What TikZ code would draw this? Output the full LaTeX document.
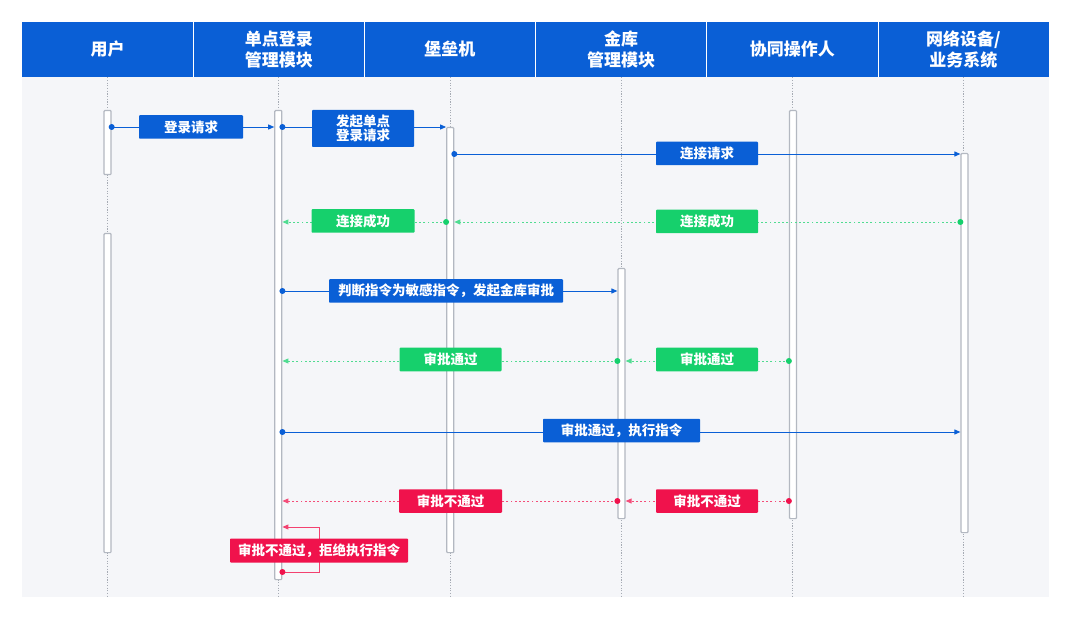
\documentclass[tikz,border=0pt]{standalone}
\usepackage{fontspec}
\newfontfamily\cjk{Noto Sans CJK SC}
\usetikzlibrary{arrows.meta}
\definecolor{hblue}{HTML}{0A5FD6}
\definecolor{mgreen}{HTML}{16D06C}
\definecolor{mred}{HTML}{F0124C}
\definecolor{panel}{HTML}{F5F6F9}
\definecolor{actgray}{HTML}{B3B8C1}
\definecolor{lgray}{HTML}{A6ABB4}
\tikzset{
  hdr/.style={rectangle, fill=hblue, minimum width=171.17pt, minimum height=55pt, inner sep=0pt,
    text=white, align=center, font=\cjk\bfseries\fontsize{17}{21}\selectfont},
  sepline/.style={white, line width=1pt},
  act/.style={rectangle, draw=actgray, fill=white, line width=1.2pt, minimum width=7pt,
    inner sep=0pt, rounded corners=0.8pt, anchor=north},
  life/.style={lgray, line width=0.7pt, dash pattern=on 1.2pt off 1.5pt},
  lbl/.style={rectangle, inner sep=0pt, minimum height=23.5pt, text=white, align=center,
    font=\cjk\bfseries\fontsize{13.5}{14.5}\selectfont, rounded corners=0.8pt},
  blbl/.style={lbl, fill=hblue},
  glbl/.style={lbl, fill=mgreen},
  rlbl/.style={lbl, fill=mred},
  tipp/.style={-{Triangle[length=6pt,width=5pt]}},
  bmsg/.style={hblue, line width=0.9pt, tipp},
  gmsg/.style={mgreen!75, line width=0.9pt, dash pattern=on 1.8pt off 2.4pt, tipp},
  rmsg/.style={mred!75, line width=0.9pt, dash pattern=on 1.8pt off 2.4pt, tipp},
  rloop/.style={mred!80, line width=0.9pt, tipp},
}
\begin{document}
\begin{tikzpicture}[x=1pt,y=-1pt]
\useasboundingbox (0,0) rectangle (1080,631);
\fill[white] (0,0) rectangle (1080,631);
\fill[panel] (22,22) rectangle (1049,597);

% headers
\node[hdr] (h1) at (107.58,49.5) {用户};
\node[hdr] (h2) at (278.75,49.5) {单点登录\\管理模块};
\node[hdr] (h3) at (449.92,49.5) {堡垒机};
\node[hdr] (h4) at (621.08,49.5) {金库\\管理模块};
\node[hdr] (h5) at (792.25,49.5) {协同操作人};
\node[hdr] (h6) at (963.42,49.5) {网络设备/\\业务系统};
\foreach \a in {h1,h2,h3,h4,h5}{
  \draw[sepline] (\a.north east) -- (\a.south east);
}

% lifelines
\coordinate (pb) at (0,597);
\foreach \a in {h1,h2,h3,h4,h5,h6}{
  \draw[life] (\a.south) -- (\a.south |- pb);
}

% activation bars
\node[act, minimum height=64pt]  (uA1) at (107.58,110) {};
\node[act, minimum height=319pt] (uA2) at (107.58,233) {};
\node[act, minimum height=469pt] (sA)  at (278.3,110) {};
\node[act, minimum height=425pt] (bA)  at (450.2,127) {};
\node[act, minimum height=250pt] (vA)  at (621.5,268) {};
\node[act, minimum height=408pt] (cA)  at (793,110) {};
\node[act, minimum height=379pt] (nA)  at (964.5,153) {};

% message rows
\coordinate (y1) at (0,127);
\coordinate (y3) at (0,154);
\coordinate (y4) at (0,222);
\coordinate (y6) at (0,291);
\coordinate (y7) at (0,361);
\coordinate (y9) at (0,432);
\coordinate (y10) at (0,501);
\coordinate (ys1) at (0,527);
\coordinate (ys2) at (0,572);

% messages
\draw[bmsg] (uA1.east |- y1) -- (sA.west |- y1);
\fill[hblue] (uA1.east |- y1) circle (3pt);
\draw[bmsg] (sA.east |- y1) -- (bA.west |- y1);
\fill[hblue] (sA.east |- y1) circle (3pt);
\draw[bmsg] (bA.east |- y3) -- (nA.west |- y3);
\fill[hblue] (bA.east |- y3) circle (3pt);

\draw[gmsg] (nA.west |- y4) -- (bA.east |- y4);
\fill[mgreen] (nA.west |- y4) circle (3pt);
\draw[gmsg] (bA.west |- y4) -- (sA.east |- y4);
\fill[mgreen] (bA.west |- y4) circle (3pt);

\draw[bmsg] (sA.east |- y6) -- (vA.west |- y6);
\fill[hblue] (sA.east |- y6) circle (3pt);

\draw[gmsg] (cA.west |- y7) -- (vA.east |- y7);
\fill[mgreen] (cA.west |- y7) circle (3pt);
\draw[gmsg] (vA.west |- y7) -- (sA.east |- y7);
\fill[mgreen] (vA.west |- y7) circle (3pt);

\draw[bmsg] (sA.east |- y9) -- (nA.west |- y9);
\fill[hblue] (sA.east |- y9) circle (3pt);

\draw[rmsg] (cA.west |- y10) -- (vA.east |- y10);
\fill[mred] (cA.west |- y10) circle (3pt);
\draw[rmsg] (vA.west |- y10) -- (sA.east |- y10);
\fill[mred] (vA.west |- y10) circle (3pt);

\draw[rloop] (sA.east |- ys2) -- ++(37.5,0) |- (sA.east |- ys1);
\fill[mred] (sA.east |- ys2) circle (3pt);

% labels
\node[blbl, minimum width=104pt] (L1) at (191,127) {登录请求};
\node[blbl, minimum width=102pt, minimum height=37pt] (L2) at (363,128.5) {发起单点\\登录请求};
\node[blbl, minimum width=102pt] (L3) at (707,153.5) {连接请求};
\node[glbl, minimum width=102pt] (L4) at (707,221.5) {连接成功};
\node[glbl, minimum width=103pt] (L5) at (363,221) {连接成功};
\node[blbl, minimum width=234pt] (L6) at (446,291) {判断指令为敏感指令，发起金库审批};
\node[glbl, minimum width=102pt] (L7) at (707,359.5) {审批通过};
\node[glbl, minimum width=102pt] (L8) at (450.5,359.5) {审批通过};
\node[blbl, minimum width=157pt] (L9) at (621.5,430.5) {审批通过，执行指令};
\node[rlbl, minimum width=102pt] (L10) at (707,501) {审批不通过};
\node[rlbl, minimum width=103pt] (L11) at (450.5,501) {审批不通过};
\node[rlbl, minimum width=178pt, minimum height=24pt] (L12) at (319,550.5) {审批不通过，拒绝执行指令};
\end{tikzpicture}
\end{document}
